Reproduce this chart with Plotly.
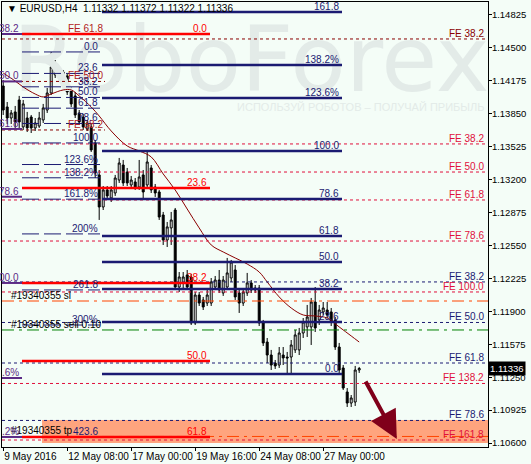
import plotly.graph_objects as go

FONT = "Liberation Sans"

# H4 bars, index 0 = first visible bar
bar_idx = list(range(90))
opens = [1.14124, 1.13917, 1.13808, 1.13868, 1.13986, 1.13720, 1.13808, 1.13818, 1.13710, 1.13729,
         1.13789, 1.13887, 1.14055, 1.14233, 1.14223, 1.14262, 1.14223, 1.14075, 1.14026, 1.13858,
         1.13818, 1.13700, 1.13720, 1.13562, 1.13246, 1.12930, 1.13098, 1.13019, 1.13068, 1.13196,
         1.13344, 1.13275, 1.13147, 1.13177, 1.13127, 1.13246, 1.13147, 1.13315, 1.13127, 1.13078,
         1.12851, 1.12604, 1.12723, 1.12900, 1.12140, 1.12180, 1.12259, 1.12239, 1.11785, 1.12061,
         1.12012, 1.11982, 1.11982, 1.12140, 1.12209, 1.12081, 1.12140, 1.12229, 1.12308, 1.12081,
         1.11982, 1.12081, 1.12180, 1.12130, 1.12130, 1.11785, 1.11597, 1.11469, 1.11390, 1.11370,
         1.11469, 1.11449, 1.11449, 1.11519, 1.11519, 1.11686, 1.11746, 1.11746, 1.11992, 1.11815,
         1.11894, 1.11913, 1.11894, 1.11815, 1.11548, 1.11341, 1.11104, 1.10995, 1.11005, 1.11321]
highs = [1.14183, 1.13966, 1.13887, 1.13927, 1.14026, 1.13986, 1.13868, 1.13838, 1.13808, 1.13868,
         1.13947, 1.14104, 1.14460, 1.14381, 1.14302, 1.14282, 1.14243, 1.14114, 1.14065, 1.13887,
         1.13848, 1.13789, 1.13749, 1.13591, 1.13295, 1.13137, 1.13137, 1.13137, 1.13246, 1.13414,
         1.13394, 1.13315, 1.13236, 1.13216, 1.13394, 1.13295, 1.13473, 1.13344, 1.13157, 1.13098,
         1.12881, 1.12782, 1.12881, 1.12920, 1.12288, 1.12288, 1.12308, 1.12269, 1.12091, 1.12091,
         1.12042, 1.12111, 1.12229, 1.12249, 1.12308, 1.12249, 1.12427, 1.12407, 1.12357, 1.12130,
         1.12130, 1.12279, 1.12209, 1.12160, 1.12160, 1.11815, 1.11637, 1.11519, 1.11420, 1.11548,
         1.11548, 1.11499, 1.11617, 1.11716, 1.11736, 1.11834, 1.11963, 1.12032, 1.12140, 1.11963,
         1.11992, 1.11992, 1.11933, 1.11844, 1.11588, 1.11370, 1.11143, 1.11074, 1.11361, 1.11351]
lows = [1.13838, 1.13749, 1.13749, 1.13710, 1.13710, 1.13690, 1.13670, 1.13660, 1.13680, 1.13710,
        1.13759, 1.13858, 1.14035, 1.14203, 1.14193, 1.14203, 1.14035, 1.13917, 1.13808, 1.13739,
        1.13690, 1.13680, 1.13473, 1.13216, 1.12802, 1.12900, 1.12999, 1.12979, 1.13039, 1.13167,
        1.13137, 1.13137, 1.13117, 1.13098, 1.13098, 1.12999, 1.13117, 1.13068, 1.13029, 1.12802,
        1.12555, 1.12535, 1.12555, 1.12111, 1.12091, 1.12130, 1.12111, 1.11765, 1.11765, 1.11953,
        1.11913, 1.11953, 1.11953, 1.12111, 1.12081, 1.12052, 1.12111, 1.12190, 1.12012, 1.11884,
        1.11953, 1.12052, 1.12081, 1.12081, 1.11755, 1.11558, 1.11390, 1.11321, 1.11331, 1.11341,
        1.11370, 1.11272, 1.11272, 1.11489, 1.11469, 1.11637, 1.11647, 1.11568, 1.11696, 1.11765,
        1.11864, 1.11834, 1.11755, 1.11519, 1.11292, 1.11124, 1.10956, 1.10956, 1.10966, 1.11292]
closes = [1.13887, 1.13808, 1.13858, 1.13769, 1.13769, 1.13947, 1.13710, 1.13710, 1.13759, 1.13808,
          1.13907, 1.14055, 1.14312, 1.14302, 1.14262, 1.14223, 1.14065, 1.13947, 1.13838, 1.13769,
          1.13720, 1.13759, 1.13493, 1.13266, 1.12930, 1.13098, 1.13039, 1.13098, 1.13216, 1.13364,
          1.13167, 1.13167, 1.13196, 1.13127, 1.13226, 1.13078, 1.13374, 1.13098, 1.13068, 1.12831,
          1.12604, 1.12733, 1.12802, 1.12140, 1.12239, 1.12239, 1.12140, 1.11785, 1.12061, 1.11982,
          1.11943, 1.12061, 1.12190, 1.12209, 1.12111, 1.12209, 1.12279, 1.12387, 1.12042, 1.11982,
          1.12091, 1.12180, 1.12111, 1.12111, 1.11785, 1.11588, 1.11469, 1.11370, 1.11361, 1.11489,
          1.11440, 1.11440, 1.11568, 1.11667, 1.11686, 1.11795, 1.11844, 1.11992, 1.11736, 1.11913,
          1.11933, 1.11864, 1.11795, 1.11548, 1.11321, 1.11143, 1.10995, 1.11045, 1.11321, 1.11336]

# moving average, read at a subset of bars
ma_idx = [0, 3, 5, 8, 10, 12, 15, 17, 19, 22, 24, 27, 31, 34, 37, 40, 43, 46, 49, 52, 55,
          58, 61, 64, 66, 69, 72, 75, 78, 81, 84, 87, 89]
ma_vals = [1.14252, 1.14173, 1.14114, 1.14045, 1.14016, 1.14045, 1.14085, 1.14085, 1.14026,
           1.13917, 1.13828, 1.13680, 1.13532, 1.13483, 1.13424, 1.13256, 1.13098, 1.12910,
           1.12723, 1.12555, 1.12486, 1.12427, 1.12367, 1.12288, 1.12190, 1.12042, 1.11933,
           1.11864, 1.11854, 1.11834, 1.11746, 1.11657, 1.11597]

price_ticks = [1.14825, 1.14500, 1.14175, 1.13850, 1.13525, 1.13200, 1.12875, 1.12550,
               1.12225, 1.11900, 1.11575, 1.11250, 1.10925, 1.10600]
date_ticks = [0, 16, 32, 48, 64, 80]
date_labels = ["9 May 2016", "12 May 08:00", "17 May 00:00", "19 May 16:00",
               "24 May 08:00", "27 May 00:00"]

# fibonacci objects
navy_fib_labels = ["0.0", "23.6", "38.2", "50.0", "61.8", "78.6", "100.0", "123.6%", "138.2%", "161.8"]
navy_fib_prices = [1.11282, 1.11795, 1.12121, 1.12387, 1.12644, 1.13009, 1.13483, 1.14006, 1.14331, 1.14855]
red_fib_labels = ["0.0", "23.6", "38.2", "50.0", "61.8"]
red_fib_prices = [1.14637, 1.13117, 1.12180, 1.11410, 1.10660]
left_fib_labels = ["0.0", "23.6", "38.2", "50.0", "61.8", "78.6", "100.0", "123.6%", "138.2%",
                   "161.8%", "200%", "261.8", "300%", "423.6"]
left_fib_prices = [1.14460, 1.14248, 1.14116, 1.14011, 1.13905, 1.13754, 1.13562, 1.13349,
                   1.13218, 1.13007, 1.12664, 1.12111, 1.11765, 1.10655]
purple_labels = ["38.2", "50.0", "61.8", "78.6", "00.0", ".6%", ".2%"]
purple_prices = [1.14637, 1.14169, 1.13700, 1.13031, 1.12180, 1.11242, 1.10660]

# fibonacci expansions
fe_red_labels = ["FE 38.2", "FE 50.0", "FE 61.8", "FE 78.6", "FE 100.0", "FE 138.2", "FE 161.8"]
fe_red_prices = [1.13552, 1.13275, 1.12999, 1.12594, 1.12091, 1.11188, 1.10630]
fe_navy_labels = ["FE 38.2", "FE 50.0", "FE 61.8", "FE 78.6"]
fe_navy_prices = [1.12190, 1.11790, 1.11390, 1.10823]
fe_maroon_labels = ["FE 61.8", "FE 50.0", "FE 38.2"]
fe_maroon_prices = [1.14637, 1.14169, 1.13690]
fe_maroon_top = 1.14588

# order lines
order_sl = 1.12002
order_sell = 1.11716
order_tp = 1.10665
zone_low, zone_high = 1.10600, 1.10827
last_price = 1.11336

NAVY = "#1b1b72"
RED = "#ff0000"
CRIMSON = "#e0103c"
MAROON = "#8b0000"
PURPLE = "#5b2a86"
BG = "#f4fdf7"
WM = "#e3ebe8"

X0, X1 = -0.3, 121.2

fig = go.Figure()

# watermark under the candles
fig.add_trace(go.Scatter(x=[62.0], y=[1.1430], mode="text", text=["RoboForex"],
                         textfont=dict(size=91, color=WM, family="DejaVu Sans"), hoverinfo="skip"))
fig.add_trace(go.Scatter(x=[89.4], y=[1.13900], mode="text",
                         text=["ИСПОЛЬЗУЙ РОБОТОВ – ПОЛУЧАЙ ПРИБЫЛЬ"],
                         textfont=dict(size=11, color=WM, family=FONT), hoverinfo="skip"))

fig.add_trace(go.Candlestick(
    x=bar_idx, open=opens, high=highs, low=lows, close=closes,
    increasing=dict(fillcolor="white", line=dict(color="black", width=1)),
    decreasing=dict(fillcolor="black", line=dict(color="black", width=1)),
    whiskerwidth=0, hoverinfo="skip"))

fig.add_trace(go.Scatter(x=ma_idx, y=ma_vals, mode="lines", line_shape="spline",
                         line=dict(color=MAROON, width=1), hoverinfo="skip"))


def hline(y, x0, x1, color, width=1, dash=None, layer="above"):
    fig.add_shape(type="line", x0=x0, x1=x1, y0=y, y1=y, layer=layer,
                  line=dict(color=color, width=width, dash=dash))


def tag(x, y, text, color, anchor="right", size=10):
    fig.add_annotation(x=x, y=y, text=text, showarrow=False, xanchor=anchor, yanchor="bottom",
                       yshift=-2, font=dict(size=size, color=color, family=FONT))


DASH = "3px,3px"
DASHDOT = "12px,5px,3px,5px"

# target zone
fig.add_shape(type="rect", x0=9.7, x1=X1, y0=zone_low, y1=zone_high,
              fillcolor="#ffa47e", line_width=0, layer="below")

# full width expansions
for p, t in zip(fe_red_prices, fe_red_labels):
    hline(p, X0, X1, CRIMSON, 1, DASH)
    tag(120.7, p, t, CRIMSON)
for p, t in zip(fe_navy_prices, fe_navy_labels):
    hline(p, X0, X1, NAVY, 1, DASH)
    tag(120.7, p, t, NAVY)
hline(fe_maroon_top, X0, X1, MAROON, 1, DASH)
tag(120.7, fe_maroon_top, "FE 38.2", MAROON)
for p, t in zip(fe_maroon_prices, fe_maroon_labels):
    hline(p, X0, 25.45, MAROON, 1, DASH)
    tag(25.45, p, t, "#b22222")

# order lines
hline(order_sl, X0, X1, "#ff4500", 1, DASHDOT)
hline(order_sell, X0, X1, "#008000", 1, DASHDOT)
hline(order_tp, X0, X1, "#ff4500", 1, DASHDOT)
tag(1.5, order_sl, "#19340355 sl", "black", anchor="left")
tag(1.5, order_sell, "#19340355 sell 0.10", "black", anchor="left")
tag(1.5, order_tp, "#19340355 tp", "black", anchor="left")

# left dashed retracement
for p, t in zip(left_fib_prices, left_fib_labels):
    hline(p, 4.7, 24.2, NAVY, 1, "17px,5px")
    tag(24.2, p, t, NAVY)

# thick retracements
for p, t in zip(navy_fib_prices, navy_fib_labels):
    hline(p, 24.7, 84.7, NAVY, 2.5)
    tag(84.45, p, t, NAVY)
for p, t in zip(red_fib_prices, red_fib_labels):
    hline(p, 4.7, 51.7, RED, 2.5)
    tag(51.45, p, t, RED)
for p, t in zip(purple_prices, purple_labels):
    hline(p, X0, 4.7, PURPLE, 2)
    tag(4.45, p, t, PURPLE)

# forecast arrow
fig.add_annotation(x=98.4, y=1.10640, ax=90.4, ay=1.11222, xref="x", yref="y",
                   axref="x", ayref="y", text="", showarrow=True, arrowhead=2,
                   arrowsize=1.4, arrowwidth=4, arrowcolor="#80001a")

# title
fig.add_annotation(xref="paper", yref="paper", x=0.006, y=0.985, xanchor="left",
                   yanchor="middle", showarrow=False,
                   text="▼ EURUSD,H4  1.11332 1.11372 1.11322 1.11336",
                   font=dict(size=10, color="black", family=FONT))

# current price box
fig.add_annotation(xref="paper", yref="y", x=1.0, y=last_price, xanchor="left",
                   yanchor="middle", showarrow=False, text="1.11336",
                   bgcolor="black", borderpad=1,
                   font=dict(size=9.5, color="white", family=FONT))

fig.update_layout(
    width=531, height=464,
    margin=dict(l=2, r=43, t=2, b=17),
    paper_bgcolor=BG, plot_bgcolor=BG,
    showlegend=False,
    xaxis=dict(range=[X0, X1], rangeslider=dict(visible=False), showgrid=False,
               zeroline=False, showline=True, mirror=True, linecolor="black", linewidth=1,
               tickvals=date_ticks, ticktext=date_labels, ticks="outside", ticklen=3,
               tickcolor="black", ticklabelposition="outside right", tickangle=0,
               tickfont=dict(size=10, color="black", family=FONT)),
    yaxis=dict(range=[1.10561, 1.14953], side="right", showgrid=False, zeroline=False,
               showline=True, mirror=True, linecolor="black", linewidth=1,
               tickvals=price_ticks, ticktext=[f"{v:.5f}" for v in price_ticks],
               ticks="outside", ticklen=3, tickcolor="black", ticklabelstandoff=-2,
               tickfont=dict(size=9.5, color="black", family=FONT)),
)

# the page has a default body margin; drop it so the figure sits at the window corner
fig.write_html("out.html", config={"displayModeBar": False},
               post_script="document.body.style.margin='0';")
